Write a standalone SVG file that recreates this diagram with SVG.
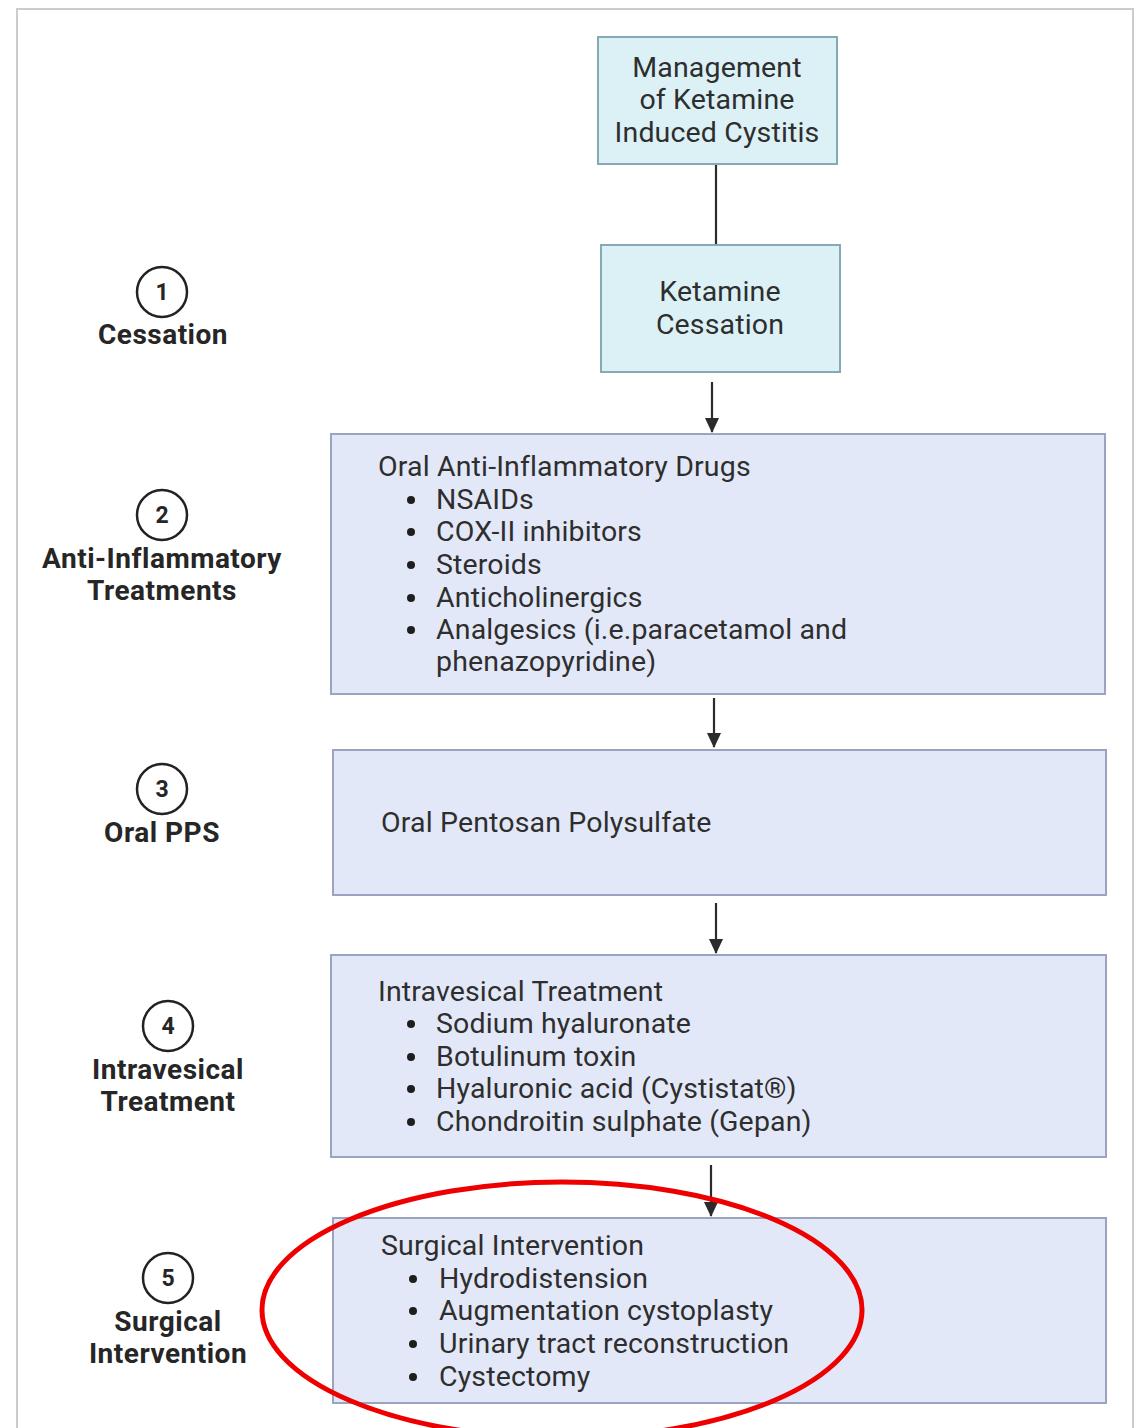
<svg xmlns="http://www.w3.org/2000/svg" width="1145" height="1428" viewBox="0 0 1145 1428">
<defs>
<marker id="ah" markerWidth="15" markerHeight="14" refX="14" refY="7" orient="auto" markerUnits="userSpaceOnUse" viewBox="0 0 15 14">
<path d="M0,0 L15,7 L0,14 Z" fill="#2b2b2b"/>
</marker>
<style>
.t{font-family:Roboto,"Liberation Sans",sans-serif;font-size:28.5px;letter-spacing:0.15px;fill:#2e2e2e}
.c{text-anchor:middle}
.lb{font-family:Roboto,"Liberation Sans",sans-serif;font-size:28px;letter-spacing:0.5px;font-weight:bold;fill:#262626;text-anchor:middle}
.num{font-family:Roboto,"Liberation Sans",sans-serif;font-size:23px;font-weight:bold;fill:#262626;text-anchor:middle}
.cyan{fill:#dcf1f6;stroke:#86aab3;stroke-width:2}
.blue{fill:#e3e8f8;stroke:#9ba3bf;stroke-width:2}
.circ{fill:none;stroke:#222;stroke-width:2.5}
.conn{stroke:#2b2b2b;stroke-width:2.2;fill:none}
.b{fill:#1e1e1e}
</style>
</defs>
<rect width="1145" height="1428" fill="#ffffff"/>
<path d="M17,1428 L17,9 L1133,9 L1133,1428" fill="none" stroke="#cccccc" stroke-width="2"/>

<g id="connectors">
<line class="conn" x1="716" y1="164" x2="716" y2="245"/>
<line class="conn" x1="712" y1="382" x2="712" y2="432" marker-end="url(#ah)"/>
<line class="conn" x1="714" y1="698" x2="714" y2="747" marker-end="url(#ah)"/>
<line class="conn" x1="716" y1="903" x2="716" y2="953" marker-end="url(#ah)"/>
<line class="conn" x1="711" y1="1165" x2="711" y2="1216" marker-end="url(#ah)"/>
</g>

<g id="node-title">
<rect class="cyan" x="598" y="37" width="239" height="127"/>
<text class="t c" x="717" y="77">Management</text>
<text class="t c" x="717" y="109">of Ketamine</text>
<text class="t c" x="717" y="142">Induced Cystitis</text>
</g>

<g id="node-cessation">
<rect class="cyan" x="601" y="245" width="239" height="127"/>
<text class="t c" x="720" y="301">Ketamine</text>
<text class="t c" x="720" y="334">Cessation</text>
</g>

<g id="node-antiinflammatory">
<rect class="blue" x="331" y="434" width="774" height="260"/>
<text class="t" x="378" y="476">Oral Anti-Inflammatory Drugs</text>
<circle class="b" cx="411" cy="500" r="4"/><text class="t" x="436" y="509">NSAIDs</text>
<circle class="b" cx="411" cy="532" r="4"/><text class="t" x="436" y="541">COX-II inhibitors</text>
<circle class="b" cx="411" cy="565" r="4"/><text class="t" x="436" y="574">Steroids</text>
<circle class="b" cx="411" cy="598" r="4"/><text class="t" x="436" y="607">Anticholinergics</text>
<circle class="b" cx="411" cy="630" r="4"/><text class="t" x="436" y="639">Analgesics (i.e.paracetamol and</text>
<text class="t" x="436" y="671">phenazopyridine)</text>
</g>

<g id="node-pps">
<rect class="blue" x="333" y="750" width="773" height="145"/>
<text class="t" x="381" y="832">Oral Pentosan Polysulfate</text>
</g>

<g id="node-intravesical">
<rect class="blue" x="331" y="955" width="775" height="202"/>
<text class="t" x="378" y="1001">Intravesical Treatment</text>
<circle class="b" cx="411" cy="1024" r="4"/><text class="t" x="436" y="1033">Sodium hyaluronate</text>
<circle class="b" cx="411" cy="1057" r="4"/><text class="t" x="436" y="1066">Botulinum toxin</text>
<circle class="b" cx="411" cy="1089" r="4"/><text class="t" x="436" y="1098">Hyaluronic acid (Cystistat®)</text>
<circle class="b" cx="411" cy="1122" r="4"/><text class="t" x="436" y="1131">Chondroitin sulphate (Gepan)</text>
</g>

<g id="node-surgical">
<rect class="blue" x="333" y="1218" width="773" height="185"/>
<text class="t" x="381" y="1255">Surgical Intervention</text>
<circle class="b" cx="413" cy="1279" r="4"/><text class="t" x="439" y="1288">Hydrodistension</text>
<circle class="b" cx="413" cy="1311" r="4"/><text class="t" x="439" y="1320">Augmentation cystoplasty</text>
<circle class="b" cx="413" cy="1344" r="4"/><text class="t" x="439" y="1353">Urinary tract reconstruction</text>
<circle class="b" cx="413" cy="1377" r="4"/><text class="t" x="439" y="1386">Cystectomy</text>
</g>

<g id="label-1">
<circle class="circ" cx="162" cy="292" r="25"/>
<text class="num" x="162" y="300">1</text>
<text class="lb" x="163" y="344">Cessation</text>
</g>
<g id="label-2">
<circle class="circ" cx="162" cy="515" r="25"/>
<text class="num" x="162" y="523">2</text>
<text class="lb" x="162" y="568">Anti-Inflammatory</text>
<text class="lb" x="162" y="600">Treatments</text>
</g>
<g id="label-3">
<circle class="circ" cx="162" cy="789" r="25"/>
<text class="num" x="162" y="797">3</text>
<text class="lb" x="162" y="842">Oral PPS</text>
</g>
<g id="label-4">
<circle class="circ" cx="168" cy="1026" r="25"/>
<text class="num" x="168" y="1034">4</text>
<text class="lb" x="168" y="1079">Intravesical</text>
<text class="lb" x="168" y="1111">Treatment</text>
</g>
<g id="label-5">
<circle class="circ" cx="168" cy="1278" r="25"/>
<text class="num" x="168" y="1286">5</text>
<text class="lb" x="168" y="1331">Surgical</text>
<text class="lb" x="168" y="1363">Intervention</text>
</g>

<ellipse id="highlight" cx="562" cy="1310" rx="300" ry="128" fill="none" stroke="#ee0000" stroke-width="5"/>
</svg>
